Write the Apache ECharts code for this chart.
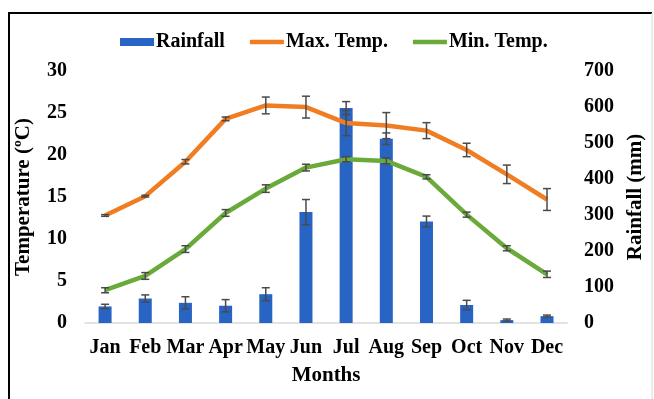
<!DOCTYPE html>
<html>
<head>
<meta charset="utf-8">
<script src="https://cdn.jsdelivr.net/npm/echarts@6/dist/echarts.min.js"></script>
<style>
  html, body { margin: 0; padding: 0; background: #fff; }
  #chart { width: 654px; height: 399px; }
</style>
</head>
<body>
<div id="chart"></div>
<script>
// Monthly climate summary: rainfall (bars) with max/min temperature (lines), ± error bars
const months = ['Jan', 'Feb', 'Mar', 'Apr', 'May', 'Jun', 'Jul', 'Aug', 'Sep', 'Oct', 'Nov', 'Dec'];
const rainfall    = [46, 68, 56, 48, 80, 308, 597, 512, 282, 50, 8, 19];
const rainfallErr = [6, 10, 17, 17, 18, 35, 18, 16, 15, 13, 3, 3];
const maxTemp     = [12.8, 15.1, 19.2, 24.3, 25.9, 25.7, 23.8, 23.5, 22.9, 20.6, 17.7, 14.7];
const maxTempErr  = [0.1, 0.1, 0.26, 0.22, 1.0, 1.3, 1.5, 1.55, 0.95, 0.8, 1.1, 1.3];
const minTemp     = [3.9, 5.6, 8.8, 13.1, 16.0, 18.5, 19.5, 19.3, 17.4, 12.9, 8.9, 5.8];
const minTempErr  = [0.3, 0.4, 0.4, 0.4, 0.45, 0.4, 0.3, 0.35, 0.25, 0.3, 0.3, 0.38];
const tempTicks = { min: 0, max: 30, interval: 5 };
const rainTicks = { min: 0, max: 700, interval: 100 };

const FONT = '"Liberation Serif", "Times New Roman", serif';
const BLUE = '#2864c4', ORANGE = '#f07d22', GREEN = '#6aaa3a', ERR = '#4a4a4a';
// thin horizontal stroke used as the legend key of a line series
const LINE_ICON = 'path://M0,0h34v4.5h-34z';

function errorSeries(values, errs, axisIndex) {
  return {
    type: 'custom',
    yAxisIndex: axisIndex,
    z: 10,
    silent: true,
    data: values.map((v, i) => [i, v - errs[i], v + errs[i]]),
    renderItem: function (params, api) {
      const lo = api.coord([api.value(0), api.value(1)]);
      const hi = api.coord([api.value(0), api.value(2)]);
      const half = 4;
      const style = { stroke: ERR, lineWidth: 1.5, fill: null };
      return {
        type: 'group',
        children: [
          { type: 'line', shape: { x1: lo[0], y1: lo[1], x2: hi[0], y2: hi[1] }, style: style },
          { type: 'line', shape: { x1: lo[0] - half, y1: lo[1], x2: lo[0] + half, y2: lo[1] }, style: style },
          { type: 'line', shape: { x1: hi[0] - half, y1: hi[1], x2: hi[0] + half, y2: hi[1] }, style: style }
        ]
      };
    }
  };
}

const tickStyle = { color: '#000', fontFamily: FONT, fontWeight: 'bold', fontSize: 20 };
const nameStyle = { color: '#000', fontFamily: FONT, fontWeight: 'bold', fontSize: 21 };

const chart = echarts.init(document.getElementById('chart'));
chart.setOption({
  animation: false,
  backgroundColor: '#fff',
  textStyle: { fontFamily: FONT },
  graphic: [
    { type: 'polyline', shape: { points: [[9, 399], [9, 13], [652, 13]] }, style: { stroke: '#000', lineWidth: 2, fill: null } },
    { type: 'line', shape: { x1: 652, y1: 13, x2: 652, y2: 399 }, style: { stroke: '#d8d8d8', lineWidth: 1 } }
  ],
  legend: {
    data: [
      { name: 'Rainfall', icon: 'rect' },
      { name: 'Max. Temp.', icon: LINE_ICON },
      { name: 'Min. Temp.', icon: LINE_ICON }
    ],
    left: 115,
    top: 27,
    itemWidth: 34,
    itemHeight: 8,
    itemGap: 25,
    textStyle: Object.assign({}, tickStyle, { padding: [0, 0, 0, -3] })
  },
  grid: { left: 85, right: 80, top: 71, bottom: 76, containLabel: false },
  xAxis: {
    type: 'category',
    data: months,
    name: 'Months',
    nameLocation: 'middle',
    nameGap: 42,
    nameTextStyle: nameStyle,
    axisLine: { lineStyle: { color: '#d9d9d9', width: 1.5 } },
    axisTick: { show: false },
    axisLabel: Object.assign({ margin: 15, interval: 0 }, tickStyle)
  },
  yAxis: [
    {
      type: 'value',
      min: tempTicks.min, max: tempTicks.max, interval: tempTicks.interval,
      name: 'Temperature (ºC)',
      nameLocation: 'middle',
      nameRotate: 90,
      nameGap: 51,
      nameTextStyle: nameStyle,
      axisLine: { show: false },
      axisTick: { show: false },
      splitLine: { show: false },
      axisLabel: Object.assign({ margin: 18 }, tickStyle)
    },
    {
      type: 'value',
      position: 'right',
      min: rainTicks.min, max: rainTicks.max, interval: rainTicks.interval,
      name: 'Rainfall (mm)',
      nameLocation: 'middle',
      nameRotate: 90,
      nameGap: 50,
      nameTextStyle: nameStyle,
      axisLine: { show: false },
      axisTick: { show: false },
      splitLine: { show: false },
      axisLabel: Object.assign({ margin: 17 }, tickStyle)
    }
  ],
  series: [
    {
      name: 'Rainfall',
      type: 'bar',
      yAxisIndex: 1,
      data: rainfall,
      barWidth: 13,
      itemStyle: { color: BLUE }
    },
    {
      name: 'Max. Temp.',
      type: 'line',
      yAxisIndex: 0,
      data: maxTemp,
      symbol: 'none',
      lineStyle: { color: ORANGE, width: 4.5 },
      itemStyle: { color: ORANGE },
      z: 5
    },
    {
      name: 'Min. Temp.',
      type: 'line',
      yAxisIndex: 0,
      data: minTemp,
      symbol: 'none',
      lineStyle: { color: GREEN, width: 4.5 },
      itemStyle: { color: GREEN },
      z: 5
    },
    errorSeries(rainfall, rainfallErr, 1),
    errorSeries(maxTemp, maxTempErr, 0),
    errorSeries(minTemp, minTempErr, 0)
  ]
});
</script>
</body>
</html>
